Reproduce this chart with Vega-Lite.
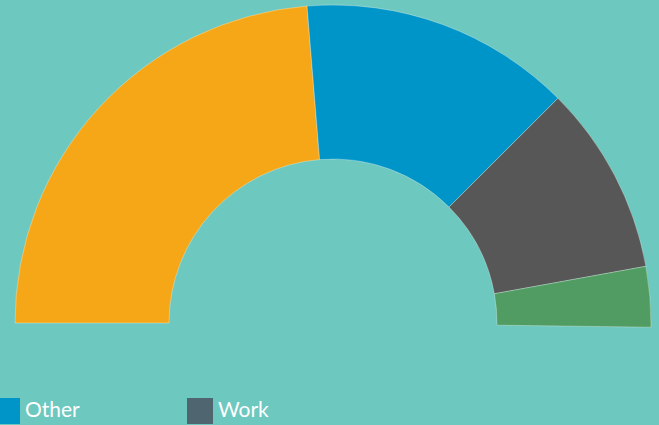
{
  "$schema": "https://vega.github.io/schema/vega-lite/v6.json",
  "autosize": "none",
  "width": 652,
  "height": 204,
  "padding": {"left": 7, "top": 221, "right": 0, "bottom": 0},
  "background": "#6DC8BF",
  "config": {"view": {"stroke": null}, "font": "Lato"},
  "data": {
    "values": [
      {"category": "Home", "share": 47.2, "rank": 1},
      {"category": "Other", "share": 27.5, "rank": 2},
      {"category": "Leisure", "share": 19.2, "rank": 3},
      {"category": "Travel", "share": 6.1, "rank": 4}
    ]
  },
  "mark": {"type": "arc", "outerRadius": 318, "innerRadius": 164, "stroke": "#ffffff", "strokeWidth": 0.5, "strokeOpacity": 0.6},
  "encoding": {
    "theta": {"field": "share", "type": "quantitative", "stack": true, "scale": {"range": [-1.5708, 1.584]}},
    "order": {"field": "rank", "type": "quantitative"},
    "color": {
      "field": "category",
      "type": "nominal",
      "scale": {
        "domain": ["Home", "Other", "Leisure", "Travel", "Work"],
        "range": ["#F5A718", "#0095C8", "#575757", "#519C62", "#4F6570"]
      },
      "legend": {
        "values": ["Other", "Work"],
        "orient": "none",
        "legendX": -13,
        "legendY": 177,
        "direction": "horizontal",
        "columns": 2,
        "title": null,
        "symbolType": "square",
        "symbolSize": 676,
        "symbolStrokeWidth": 0,
        "symbolOpacity": 1,
        "labelFont": "Lato",
        "labelFontSize": 21,
        "labelColor": "#ffffff",
        "labelOffset": 5,
        "columnPadding": 107,
        "gridAlign": "each",
        "padding": 0
      }
    }
  }
}
